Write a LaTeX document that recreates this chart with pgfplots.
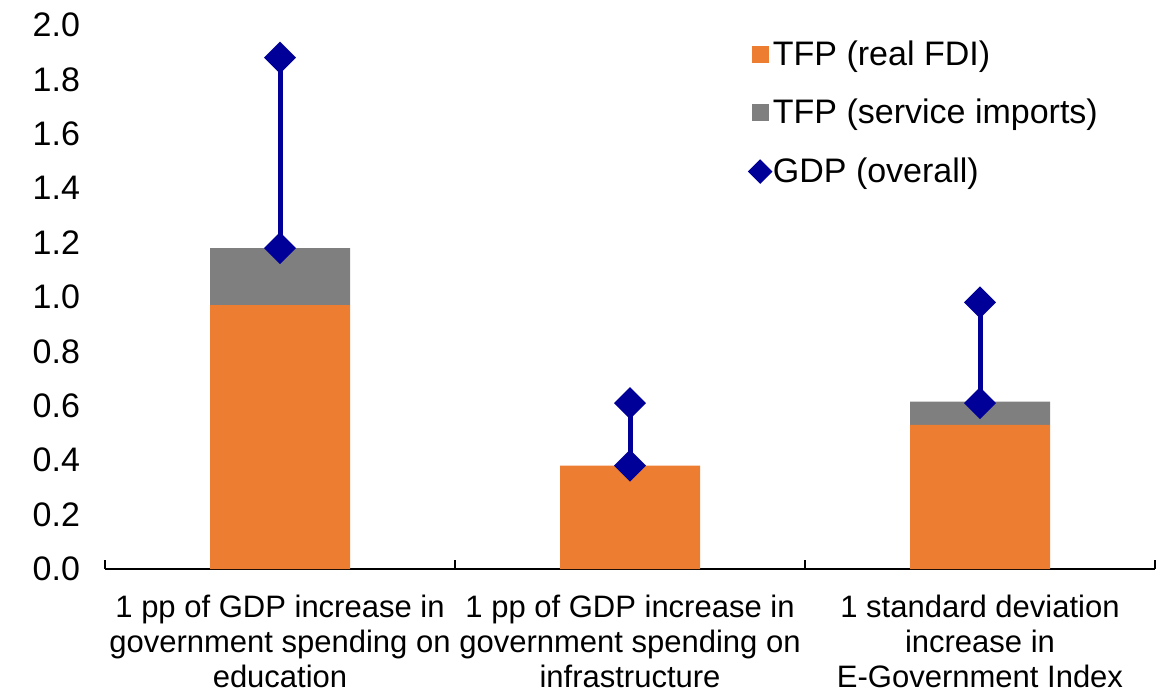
\documentclass[border=0pt]{standalone}
\usepackage{pgfplots}
\pgfplotsset{compat=1.18}
\usepackage{fontspec}
\setmainfont{Liberation Sans}
\definecolor{tfporange}{RGB}{237,125,49}
\definecolor{tfpgray}{RGB}{127,127,127}
\definecolor{gdpblue}{RGB}{0,0,153}
\begin{document}
\begin{tikzpicture}
\begin{axis}[
  at={(0,0)}, anchor=south west,
  scale only axis, width=525pt, height=272pt,
  ybar stacked, bar width=0.4,
  xmin=-0.5, xmax=2.5, ymin=0, ymax=2,
  axis x line*=bottom, axis y line*=left,
  y axis line style={draw=none},
  x axis line style={line width=0.6pt, black},
  xtick={0,1,2},
  xticklabels={{1 pp of GDP increase in\\government spending on\\education},
               {1 pp of GDP increase in\\government spending on\\infrastructure},
               {1 standard deviation\\increase in\\E-Government Index}},
  major tick length=0pt,
  minor xtick={-0.5,0.5,1.5,2.5},
  minor tick length=4.5pt,
  minor tick style={line width=0.6pt, black},
  tick align=inside,
  ytick={0,0.2,0.4,0.6,0.8,1,1.2,1.4,1.6,1.8,2},
  ytick style={draw=none},
  /pgf/number format/fixed,
  /pgf/number format/fixed zerofill,
  /pgf/number format/precision=1,
  /pgf/number format/assume math mode=true,
  yticklabel style={font=\fontsize{17}{20}\selectfont, xshift=-9pt},
  xticklabel style={font=\fontsize{15.5}{17.5}\selectfont, align=center, yshift=-9.5pt},
  legend cell align=left,
  legend style={draw=none, fill=none, at={(0.6095,0.987)}, anchor=north west,
    font=\fontsize{17}{20}\selectfont, row sep=11.5pt},
]
\addplot[fill=tfporange, draw=none,
  legend image code/.code={\fill[tfporange] (-2.5pt,-4.25pt) rectangle (6pt,4.25pt);}]
  coordinates {(0,0.97) (1,0.38) (2,0.53)};
\addlegendentry{TFP (real FDI)}
\addplot[fill=tfpgray, draw=none,
  legend image code/.code={\fill[tfpgray] (-2.5pt,-4.25pt) rectangle (6pt,4.25pt);}]
  coordinates {(0,0.21) (1,0) (2,0.085)};
\addlegendentry{TFP (service imports)}
\addplot[sharp plot, stack plots=false, draw=gdpblue, line width=2.5pt,
  mark=square*, mark size=4.4pt,
  mark options={rotate=45, draw=none, fill=gdpblue},
  unbounded coords=jump,
  legend image code/.code={\path plot[only marks, mark=square*, mark size=3.1pt,
     mark options={rotate=45, draw=none, fill=gdpblue}] coordinates {(1.75pt,0pt)};}]
  coordinates {(0,1.18) (0,1.88) (1,nan) (1,0.38) (1,0.61) (2,nan) (2,0.61) (2,0.98)};
\addlegendentry{GDP (overall)}
\end{axis}
\path (-52.5pt,-62pt) rectangle (525.5pt,284.5pt);
\end{tikzpicture}
\end{document}
